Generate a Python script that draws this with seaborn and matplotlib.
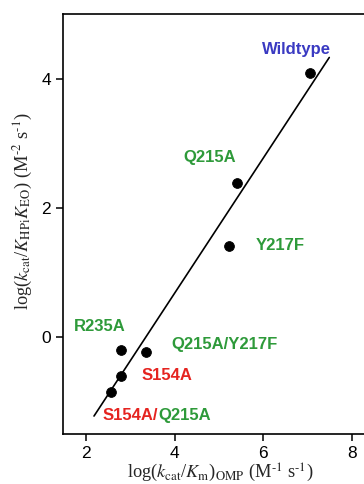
import matplotlib
matplotlib.use("Agg")
import matplotlib.pyplot as plt
import seaborn as sns
import numpy as np
import pandas as pd

# Data
variants = ["Wildtype", "Q215A", "Y217F", "R235A", "Q215A/Y217F", "S154A", "S154A/Q215A"]
log_kcat_km_omp = [7.06, 5.41, 5.23, 2.79, 3.35, 2.79, 2.56]
log_kcat_khpi_keo = [4.09, 2.39, 1.41, -0.20, -0.23, -0.60, -0.85]
fit_x_range = [2.18, 7.49]
fit_slope = 1.045
fit_intercept = -3.50
x_ticks = [2, 4, 6, 8]
y_ticks = [0, 2, 4]

df = pd.DataFrame({"x": log_kcat_km_omp, "y": log_kcat_khpi_keo, "variant": variants})
fit_df = pd.DataFrame({"x": fit_x_range,
                       "y": [fit_slope * v + fit_intercept for v in fit_x_range]})

sns.set_style("ticks")
plt.rcParams["font.family"] = ["Liberation Sans", "DejaVu Sans"]
plt.rcParams["mathtext.fontset"] = "stix"

fig = plt.figure(figsize=(3.64, 4.84), dpi=100)
ax = fig.add_axes([63 / 364, 50 / 484, 0.8666, 420 / 484])

sns.lineplot(data=fit_df, x="x", y="y", ax=ax, color="black", linewidth=1.2)
sns.scatterplot(data=df, x="x", y="y", ax=ax, color="black", s=50, edgecolor="black", zorder=3)

ax.set_xlim(1.48, 8.6)
ax.set_ylim(-1.5, 5.0)
ax.set_xticks(x_ticks)
ax.set_yticks(y_ticks)
ax.tick_params(axis="both", direction="out", length=5, width=1.1, labelsize=12.5, colors="black")
for s in ax.spines.values():
    s.set_linewidth(1.2)
    s.set_color("black")

serif = ["Liberation Serif", "DejaVu Serif"]
ax.set_xlabel("log($k_{\\rm cat}$/$K_{\\rm m}$)$_{\\rm OMP}$ (M$^{\\rm \u20101}$ s$^{\\rm \u20101}$)",
              fontsize=13.2, family=serif, labelpad=1)
ax.set_ylabel("log($k_{\\rm cat}$/$K_{\\rm HPi}K_{\\rm EO}$) (M$^{\\rm \u20102}$ s$^{\\rm \u20101}$)",
              fontsize=13.2, family=serif)
ax.yaxis.set_label_coords(-0.09, 0.53)

green = "#2e9a3a"
red = "#e52420"
blue = "#3a3ac2"
fs = 12
kw = dict(fontsize=fs, fontweight="bold", va="center")
ax.text(6.74, 4.45, "Wildtype", color=blue, ha="center", **kw)
ax.text(4.78, 2.78, "Q215A", color=green, ha="center", **kw)
ax.text(5.84, 1.41, "Y217F", color=green, ha="left", **kw)
ax.text(2.32, 0.17, "R235A", color=green, ha="center", **kw)
ax.text(3.92, -0.12, "Q215A/Y217F", color=green, ha="left", **kw)
ax.text(3.26, -0.60, "S154A", color=red, ha="left", **kw)
t1 = ax.text(2.38, -1.22, "S154A/", color=red, ha="left", **kw)
ax.annotate("Q215A", xy=(1, 0), xycoords=t1, ha="left", va="bottom",
            color=green, fontsize=fs, fontweight="bold")

fig.savefig("out.png", dpi=100)
